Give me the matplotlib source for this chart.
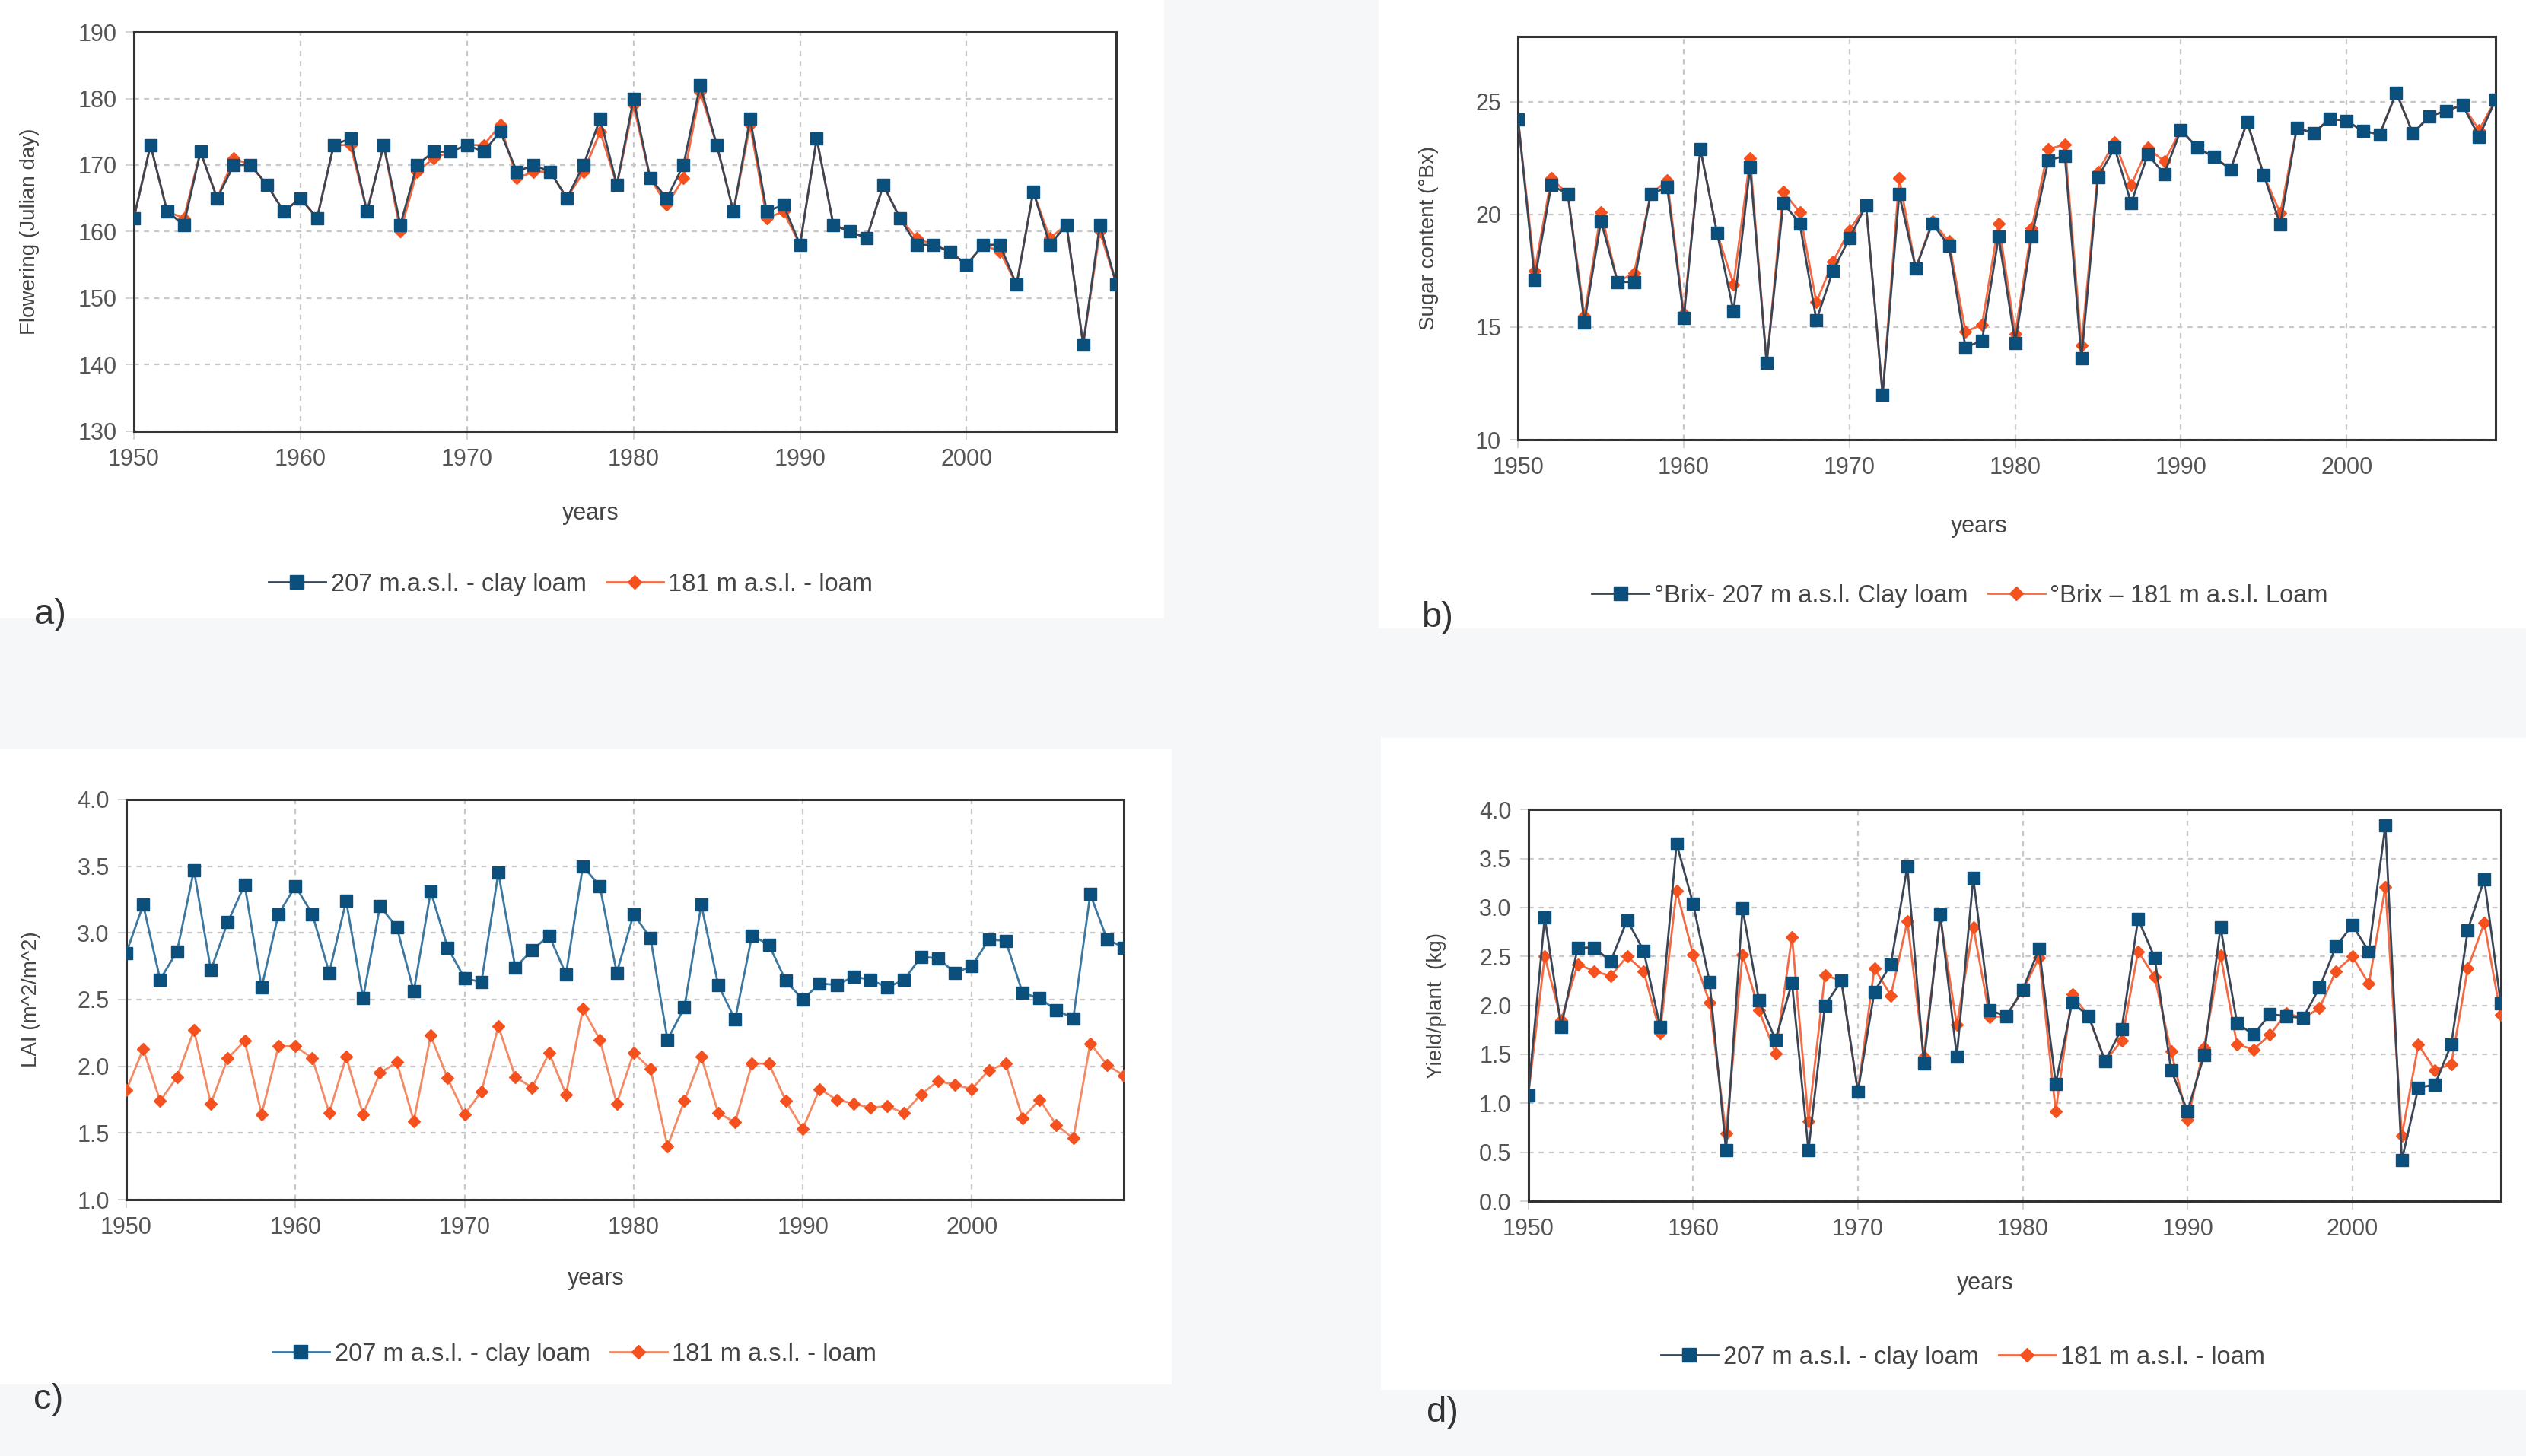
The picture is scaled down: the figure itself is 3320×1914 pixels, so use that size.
import matplotlib
matplotlib.use("Agg")
import matplotlib.pyplot as plt
from matplotlib.patches import Rectangle
import numpy as np

plt.rcParams['font.family'] = ['Liberation Sans', 'DejaVu Sans']

years = np.arange(1950, 2010)

# a) flowering date (Julian day)
flower_207 = [162, 173, 163, 161, 172, 165, 170, 170, 167, 163,
              165, 162, 173, 174, 163, 173, 161, 170, 172, 172,
              173, 172, 175, 169, 170, 169, 165, 170, 177, 167,
              180, 168, 165, 170, 182, 173, 163, 177, 163, 164,
              158, 174, 161, 160, 159, 167, 162, 158, 158, 157,
              155, 158, 158, 152, 166, 158, 161, 143, 161, 152]
flower_181 = [162, 173, 163, 162, 172, 165, 171, 170, 167, 163,
              165, 162, 173, 173, 163, 173, 160, 169, 171, 172,
              173, 173, 176, 168, 169, 169, 165, 169, 175, 167,
              179, 168, 164, 168, 181, 173, 163, 176, 162, 163,
              158, 174, 161, 160, 159, 167, 162, 159, 158, 157,
              155, 158, 157, 152, 166, 159, 161, 143, 160, 152]

# b) sugar content (°Bx)
brix_207 = [24.2, 17.1, 21.3, 20.9, 15.2, 19.7, 17.0, 17.0, 20.9, 21.2,
            15.4, 22.9, 19.2, 15.7, 22.1, 13.4, 20.5, 19.6, 15.3, 17.5,
            18.95, 20.4, 12.0, 20.9, 17.6, 19.6, 18.6, 14.1, 14.4, 19.0,
            14.3, 19.0, 22.4, 22.6, 13.6, 21.65, 22.95, 20.5, 22.65, 21.8,
            23.75, 22.95, 22.55, 22.0, 24.1, 21.75, 19.55, 23.85, 23.6, 24.25,
            24.15, 23.7, 23.55, 25.4, 23.6, 24.35, 24.6, 24.85, 23.45, 25.1]
brix_181 = [24.2, 17.5, 21.6, 20.9, 15.5, 20.1, 17.0, 17.4, 20.9, 21.5,
            15.6, 22.9, 19.2, 16.9, 22.5, 13.4, 21.0, 20.1, 16.1, 17.9,
            19.3, 20.4, 12.0, 21.6, 17.6, 19.7, 18.8, 14.8, 15.1, 19.6,
            14.7, 19.4, 22.9, 23.1, 14.2, 21.9, 23.2, 21.3, 22.95, 22.35,
            23.75, 22.95, 22.55, 22.0, 24.1, 21.75, 20.05, 23.85, 23.6, 24.25,
            24.15, 23.7, 23.55, 25.4, 23.6, 24.35, 24.6, 24.85, 23.75, 25.1]

# c) LAI
lai_207 = [2.85, 3.21, 2.65, 2.86, 3.47, 2.72, 3.08, 3.36, 2.59, 3.14,
           3.35, 3.14, 2.70, 3.24, 2.51, 3.20, 3.04, 2.56, 3.31, 2.89,
           2.66, 2.63, 3.45, 2.74, 2.87, 2.98, 2.69, 3.50, 3.35, 2.70,
           3.14, 2.96, 2.20, 2.44, 3.21, 2.61, 2.35, 2.98, 2.91, 2.64,
           2.50, 2.62, 2.61, 2.67, 2.65, 2.59, 2.65, 2.82, 2.81, 2.70,
           2.75, 2.95, 2.94, 2.55, 2.51, 2.42, 2.36, 3.29, 2.95, 2.89]
lai_181 = [1.82, 2.13, 1.74, 1.92, 2.27, 1.72, 2.06, 2.19, 1.64, 2.15,
           2.15, 2.06, 1.65, 2.07, 1.64, 1.95, 2.03, 1.59, 2.23, 1.91,
           1.64, 1.81, 2.30, 1.92, 1.84, 2.10, 1.79, 2.43, 2.20, 1.72,
           2.10, 1.98, 1.40, 1.74, 2.07, 1.65, 1.58, 2.02, 2.02, 1.74,
           1.53, 1.83, 1.75, 1.72, 1.69, 1.70, 1.65, 1.79, 1.89, 1.86,
           1.83, 1.97, 2.02, 1.61, 1.75, 1.56, 1.46, 2.17, 2.01, 1.93]

# d) yield per plant (kg)
yield_207 = [1.08, 2.90, 1.78, 2.59, 2.59, 2.45, 2.87, 2.56, 1.78, 3.65,
             3.04, 2.24, 0.52, 2.99, 2.05, 1.65, 2.23, 0.52, 2.00, 2.25,
             1.12, 2.14, 2.42, 3.42, 1.41, 2.93, 1.48, 3.30, 1.95, 1.89,
             2.16, 2.58, 1.20, 2.03, 1.89, 1.43, 1.76, 2.88, 2.49, 1.34,
             0.92, 1.49, 2.80, 1.82, 1.70, 1.91, 1.89, 1.87, 2.18, 2.60,
             2.82, 2.55, 3.84, 0.42, 1.16, 1.19, 1.60, 2.77, 3.29, 2.02]
yield_181 = [1.08, 2.50, 1.85, 2.42, 2.35, 2.30, 2.50, 2.35, 1.72, 3.17,
             2.52, 2.03, 0.69, 2.52, 1.95, 1.51, 2.70, 0.82, 2.31, 2.25,
             1.12, 2.38, 2.10, 2.86, 1.48, 2.90, 1.80, 2.80, 1.88, 1.89,
             2.15, 2.49, 0.92, 2.11, 1.89, 1.43, 1.64, 2.55, 2.29, 1.53,
             0.83, 1.57, 2.51, 1.60, 1.55, 1.70, 1.92, 1.87, 1.97, 2.35,
             2.50, 2.22, 3.21, 0.67, 1.60, 1.34, 1.40, 2.38, 2.84, 1.90]

panels = [
    dict(blue=flower_207, orange=flower_181, ylim=(130, 190), yticks=np.arange(130, 191, 10),
         fmt='{:.0f}', ylabel='Flowering (Julian day)',
         legend=['207 m.a.s.l. - clay loam', '181 m a.s.l. - loam'],
         rect=[0.053, 0.704, 0.389, 0.274], ylab_x=0.0158, xlab=(0.2337, 0.6554),
         leg=(0.2259, 0.5987), tag='a)', tag_xy=(0.0199, 0.578),
         bg=(0.0, 0.5752, 0.4608, 0.4248), bline='#3a4656', oline='#f26b45'),
    dict(blue=brix_207, orange=brix_181, ylim=(10, 27.9), yticks=[10, 15, 20, 25],
         fmt='{:.0f}', ylabel='Sugar content (°Bx)',
         legend=['°Brix- 207 m a.s.l. Clay loam', '°Brix – 181 m a.s.l. Loam'],
         rect=[0.601, 0.698, 0.387, 0.277], ylab_x=0.5695, xlab=(0.7834, 0.6465),
         leg=(0.7759, 0.5909), tag='b)', tag_xy=(0.569, 0.576),
         bg=(0.5458, 0.5684, 0.4542, 0.4316), bline='#3a4656', oline='#f26b45'),
    dict(blue=lai_207, orange=lai_181, ylim=(1.0, 4.0), yticks=np.arange(1.0, 4.01, 0.5),
         fmt='{:.1f}', ylabel='LAI (m^2/m^2)',
         legend=['207 m a.s.l. - clay loam', '181 m a.s.l. - loam'],
         rect=[0.050, 0.176, 0.395, 0.275], ylab_x=0.0164, xlab=(0.2358, 0.1298),
         leg=(0.2274, 0.0700), tag='c)', tag_xy=(0.0193, 0.0387),
         bg=(0.0, 0.0491, 0.4639, 0.4368), bline='#3c77a0', oline='#f28a66'),
    dict(blue=yield_207, orange=yield_181, ylim=(0.0, 4.0), yticks=np.arange(0.0, 4.01, 0.5),
         fmt='{:.1f}', ylabel='Yield/plant  (kg)',
         legend=['207 m a.s.l. - clay loam', '181 m a.s.l. - loam'],
         rect=[0.605, 0.175, 0.385, 0.269], ylab_x=0.5725, xlab=(0.786, 0.1266),
         leg=(0.7771, 0.0679), tag='d)', tag_xy=(0.571, 0.0298),
         bg=(0.5467, 0.0455, 0.4533, 0.4477), bline='#3a4656', oline='#f26b45'),
]

blue = '#0b4f7c'
orange = '#f4511e'
txt = '#444444'

fig = plt.figure(figsize=(33.2, 19.14), dpi=100, facecolor='#f6f7f8')

for p in panels:
    fig.add_artist(Rectangle(p['bg'][:2], p['bg'][2], p['bg'][3], transform=fig.transFigure,
                             facecolor='white', edgecolor='none', zorder=-5))
    ax = fig.add_axes(p['rect'])
    ax.plot(years, p['orange'], color=p['oline'], lw=2, marker='D', ms=8,
            mfc=orange, mec=orange, label=p['legend'][1], zorder=3)
    ax.plot(years, p['blue'], color=p['bline'], lw=2, marker='s', ms=12,
            mfc=blue, mec=blue, label=p['legend'][0], zorder=4)
    ax.set_xlim(1950, 2009)
    ax.set_ylim(*p['ylim'])
    ax.set_xticks(np.arange(1950, 2001, 10))
    ax.set_yticks(p['yticks'])
    ax.set_yticklabels([p['fmt'].format(v) for v in p['yticks']])
    ax.grid(True, color='#c8c8c8', lw=1.6, ls=(0, (3, 3)))
    ax.tick_params(labelsize=22, colors='#555555', length=8, width=1.2, pad=8)
    ax.tick_params(axis='both', color='#cccccc')
    for s in ax.spines.values():
        s.set_color('#333333')
        s.set_linewidth(2.2)
    ax.set_ylabel(p['ylabel'], fontsize=20, color=txt)
    ax.yaxis.set_label_coords(p['ylab_x'], p['rect'][1] + p['rect'][3] / 2, transform=fig.transFigure)
    ax.set_xlabel('years', fontsize=22, color=txt)
    ax.xaxis.set_label_coords(*p['xlab'], transform=fig.transFigure)
    h, l = ax.get_legend_handles_labels()
    ax.legend(h[::-1], l[::-1], loc='center', bbox_to_anchor=p['leg'], bbox_transform=fig.transFigure,
              ncol=2, frameon=False, fontsize=23.5, handlelength=2.3, handletextpad=0.2,
              columnspacing=0.8, labelcolor=txt, markerscale=1.1)
    fig.text(*p['tag_xy'], p['tag'], fontsize=34, color='#333333', ha='center', va='center')

fig.savefig('out.png', dpi=100, facecolor=fig.get_facecolor())
